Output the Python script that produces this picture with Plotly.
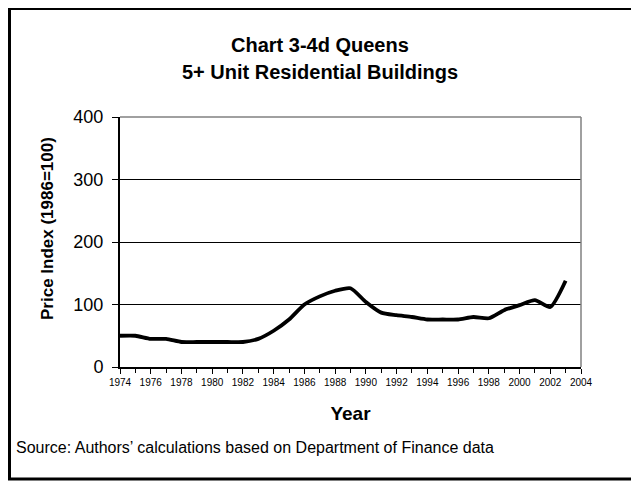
import plotly.graph_objects as go

# Queens 5+ unit residential price index (1986=100)
years = list(range(1974, 2004))
price_index = [50, 50, 45, 45, 40, 40, 40, 40, 40, 45, 58, 76, 100, 113, 122, 126,
               104, 87, 83, 80, 76, 76, 76, 80, 78, 91, 99, 107, 96, 138]

y_ticks = [0, 100, 200, 300, 400]
x_ticks = list(range(1974, 2005, 2))

font_family = 'Liberation Sans, Arial, sans-serif'

# the page body adds an 8px margin, so the figure is sized/positioned for that
W, H = 631, 473
L, R, T, B = 112, 58, 109, 114
pw = W - L - R
ph = H - T - B


def px_x(x):
    # pixel column (figure coords) -> paper fraction
    return (x - L) / pw


def px_y(y):
    # pixel row (figure coords) -> paper fraction
    return 1 - (y - T) / ph


fig = go.Figure()

fig.add_trace(go.Scatter(
    x=years,
    y=price_index,
    mode='lines',
    line=dict(color='black', width=3.8, shape='spline', smoothing=0.6),
    showlegend=False,
))

fig.update_layout(
    width=W,
    height=H,
    margin=dict(l=L, r=R, t=T, b=B),
    plot_bgcolor='white',
    paper_bgcolor='white',
    font=dict(family=font_family, color='black'),
    xaxis=dict(
        range=[1974, 2004],
        tickvals=x_ticks,
        ticktext=[str(t) for t in x_ticks],
        ticks='outside',
        ticklen=5,
        tickwidth=1,
        tickcolor='black',
        tickfont=dict(size=10),
        minor=dict(dtick=1, tick0=1974, ticks='outside', ticklen=4, tickcolor='black', showgrid=False),
        showline=True,
        linecolor='black',
        linewidth=2,
        showgrid=False,
        zeroline=False,
        title=dict(text='<b>Year</b>', font=dict(size=19), standoff=20),
    ),
    yaxis=dict(
        range=[0, 400],
        tickvals=y_ticks,
        ticks='outside',
        ticklen=6,
        tickwidth=1,
        tickcolor='black',
        tickfont=dict(size=18),
        ticklabelstandoff=5,
        showline=True,
        linecolor='black',
        linewidth=2,
        showgrid=True,
        gridcolor='black',
        gridwidth=1,
        zeroline=False,
    ),
    annotations=[
        dict(text='<b>Chart 3-4d Queens</b>', x=px_x(312), y=px_y(37),
             xref='paper', yref='paper', showarrow=False, font=dict(size=20), yanchor='middle'),
        dict(text='<b>5+ Unit Residential Buildings</b>', x=px_x(312), y=px_y(64),
             xref='paper', yref='paper', showarrow=False, font=dict(size=20), yanchor='middle'),
        dict(text='<b>Price Index (1986=100)</b>', x=px_x(39), y=px_y(221), textangle=-90,
             xref='paper', yref='paper', showarrow=False, font=dict(size=17),
             xanchor='center', yanchor='middle'),
        dict(text='Source: Authors\u2019 calculations based on Department of Finance data',
             x=px_x(6), y=px_y(439), xref='paper', yref='paper', xanchor='left', yanchor='middle',
             showarrow=False, font=dict(size=16)),
    ],
)

# gray frame on top and right of the plot area
fig.add_shape(type='line', xref='paper', yref='paper', x0=0, x1=1, y0=1, y1=1,
              line=dict(color='#808080', width=1.5), layer='above')
fig.add_shape(type='line', xref='paper', yref='paper', x0=1, x1=1, y0=0, y1=1,
              line=dict(color='#808080', width=1.5), layer='above')

# outer frame: black left/top/bottom, thin gray right
fig.add_shape(type='line', xref='paper', yref='paper', x0=px_x(1.5), x1=px_x(1.5),
              y0=px_y(0), y1=px_y(472), line=dict(color='black', width=3))
fig.add_shape(type='line', xref='paper', yref='paper', x0=px_x(0), x1=px_x(630),
              y0=px_y(0.5), y1=px_y(0.5), line=dict(color='black', width=3))
fig.add_shape(type='line', xref='paper', yref='paper', x0=px_x(0), x1=px_x(630),
              y0=px_y(471), y1=px_y(471), line=dict(color='black', width=3))
fig.add_shape(type='line', xref='paper', yref='paper', x0=px_x(630), x1=px_x(630),
              y0=px_y(0), y1=px_y(472), line=dict(color='#707070', width=1.5))

fig.write_html("out.html")
